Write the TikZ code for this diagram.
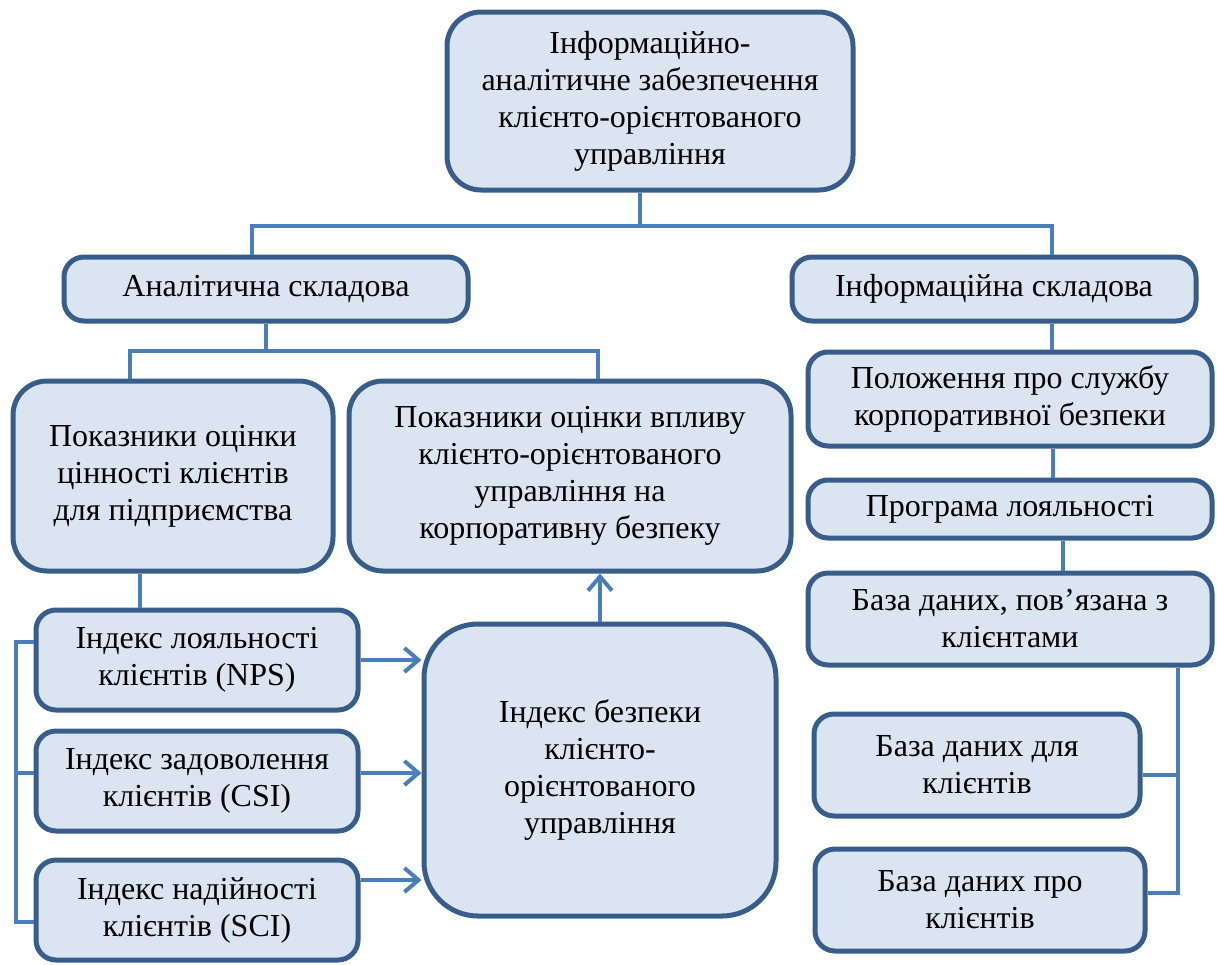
\documentclass[tikz,border=0pt]{standalone}
\usepackage{fontspec}
\setmainfont{Liberation Serif}
\usetikzlibrary{arrows.meta,positioning}
\definecolor{boxfill}{RGB}{219,229,241}
\definecolor{boxedge}{RGB}{56,93,138}
\definecolor{linkblue}{RGB}{74,126,187}

\begin{document}
\begin{tikzpicture}[x=0.5pt, y=-0.5pt,
  every node/.style={font=\fontsize{16}{18.5}\selectfont, align=center},
  block/.style={draw=boxedge, fill=boxfill, line width=2.5pt, rounded corners=10pt, inner sep=2pt},
  link/.style={linkblue, line width=2pt},
  feed/.style={link, -{Straight Barb[length=7pt, width=12pt]}},
]

% ===== Canvas (pixel grid of the reference, y downwards) =====
\useasboundingbox (0,0) rectangle (1217,965);

%% ---- TOP ----
\node[block, rounded corners=17pt, minimum width=203pt, minimum height=89pt]
  (info) at (650,101)
  {Інформаційно-\\аналітичне забезпечення\\клієнто-орієнтованого\\управління};

%% ---- SECOND LEVEL ----
\node[block, minimum width=202pt, minimum height=32pt] (anal) at (266,289)
  {Аналітична складова};
\node[block, minimum width=202pt, minimum height=32pt] (infcomp) at (994,289)
  {Інформаційна складова};

% Top tree
\draw[link] ([xshift=-5pt]info.south) -- ++(0,33) coordinate (topbar);
\draw[link] ([xshift=-7pt]anal.north) |- (topbar) -| ([xshift=29pt]infcomp.north);

%% ---- ANALYTICAL BRANCH ----
\node[block, rounded corners=17pt, minimum width=160pt, minimum height=95pt]
  (value) at (173,476)
  {Показники оцінки\\цінності клієнтів\\для підприємства};
\node[block, rounded corners=17pt, minimum width=221pt, minimum height=95pt]
  (impact) at (570,476)
  {Показники оцінки впливу\\клієнто-орієнтованого\\управління на\\корпоративну безпеку};

\draw[link] (anal.south) -- ++(0,27) coordinate (anbar);
\draw[link] ([xshift=-21.5pt]value.north) |- (anbar) -| ([xshift=14pt]impact.north);

% Indices
\node[block, minimum width=161pt, minimum height=50pt] (nps) at (197,660)
  {Індекс лояльності\\клієнтів (NPS)};
\node[block, minimum width=161pt, minimum height=50pt] (csi) at (197,781)
  {Індекс задоволення\\клієнтів (CSI)};
\node[block, minimum width=161pt, minimum height=50pt] (sci) at (197,910)
  {Індекс надійності\\клієнтів (SCI)};

\node[block, rounded corners=27pt, minimum width=176pt, minimum height=146pt]
  (secidx) at (600,770)
  {Індекс безпеки\\клієнто-\\орієнтованого\\управління};

\draw[link] ([xshift=-16.5pt]value.south) -- ([xshift=-16.5pt]value.south |- nps.north);

% Left bracket
\draw[link] ([yshift=9pt]nps.west) -- ++(-18,0) |- ([yshift=-6pt]sci.west);
\draw[link] ([yshift=4pt]csi.west) -- ++(-18,0);

% Arrows into the security index
\draw[feed] (nps.east) -- (nps.east -| secidx.west);
\draw[feed] ([yshift=4pt]csi.east) -- ([yshift=4pt]csi.east -| secidx.west);
\draw[feed] ([yshift=15pt]sci.east) -- ([yshift=15pt]sci.east -| secidx.west);
\draw[feed] (secidx.north) -- (secidx.north |- impact.south);

%% ---- INFORMATION BRANCH ----
\node[block, minimum width=202pt, minimum height=47pt] (statute) at (1010,399)
  {Положення про службу\\корпоративної безпеки};
\node[block, minimum width=202pt, minimum height=29pt] (loyal) at (1010,509)
  {Програма лояльності};
\node[block, minimum width=202pt, minimum height=46pt] (linked) at (1010,619)
  {База даних, пов’язана з\\клієнтами};
\node[block, minimum width=163pt, minimum height=51pt] (dbfor) at (977,765)
  {База даних для\\клієнтів};
\node[block, minimum width=165pt, minimum height=51pt] (dbabout) at (980,900)
  {База даних про\\клієнтів};

\draw[link] ([xshift=29pt]infcomp.south) -- ([xshift=29pt]infcomp.south |- statute.north);
\draw[link] ([xshift=21.5pt]statute.south) -- ([xshift=21.5pt]statute.south |- loyal.north);
\draw[link] ([xshift=26.5pt]loyal.south) -- ([xshift=26.5pt]loyal.south |- linked.north);

% Right bracket
\draw[link] ([xshift=84pt]linked.south) |- ([yshift=3.5pt]dbabout.east);
\draw[link] ([yshift=-5pt]dbfor.east) -| ([xshift=84pt]linked.south);

\end{tikzpicture}
\end{document}
